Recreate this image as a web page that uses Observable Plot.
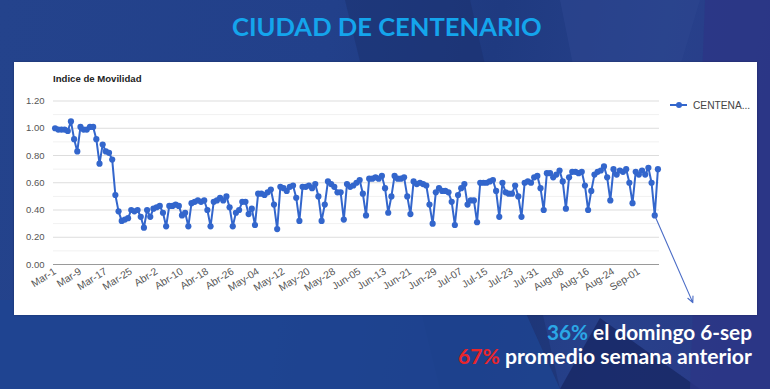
<!DOCTYPE html>
<html><head><meta charset="utf-8">
<script src="https://cdn.jsdelivr.net/npm/d3@7"></script>
<script src="https://cdn.jsdelivr.net/npm/@observablehq/plot@0.6"></script>
<style>
html,body{margin:0;padding:0;}
body{width:770px;height:389px;overflow:hidden;position:relative;background:#22408a;font-family:"Liberation Sans",Arial,sans-serif;}
.bg{position:absolute;left:0;top:0;width:770px;height:389px;}
.txt{position:absolute;white-space:nowrap;font-family:Lato,"Open Sans",sans-serif;font-weight:700;line-height:1;}
#title{color:#14a5ec;font-size:30px;}
#panel{position:absolute;left:14px;top:62px;width:743px;height:253px;background:#fff;box-shadow:0 0 2px rgba(0,0,0,0.3);}
#ctitle{position:absolute;left:39px;top:11px;font:bold 9.6px "Liberation Sans",Arial,sans-serif;color:#222;}
#legend{position:absolute;left:656px;top:37px;font:10.2px "Liberation Sans",Arial,sans-serif;color:#444;white-space:nowrap;}
#legend svg{vertical-align:middle;margin-right:6px;}
#legend span{vertical-align:middle;}
#chart{position:absolute;left:0;top:0;}
</style></head>
<body>
<div class="bg" style="background:linear-gradient(100deg,#24438c 0%,#22408a 40%,#1f3a80 60%,#27418b 80%,#2b3886 100%);"></div>
<div class="bg" style="background:#1c326f;clip-path:polygon(345px 0,470px 0,560px 389px,440px 389px);opacity:0.55;"></div>
<div class="bg" style="background:#2d4690;clip-path:polygon(560px 0,700px 0,640px 200px,600px 200px);opacity:0.6;"></div>
<div class="bg" style="background:#1e4592;clip-path:polygon(0 300px,520px 300px,560px 389px,0 389px);opacity:0.8;"></div>
<div class="bg" style="background:#1a2a68;clip-path:polygon(600px 318px,700px 389px,560px 389px);opacity:0.9;"></div>
<div class="bg" style="background:#2c3686;clip-path:polygon(705px 0,770px 0,770px 389px,690px 389px);opacity:0.8;"></div>

<div id="title" class="txt">CIUDAD DE CENTENARIO</div>

<div id="panel">
  <div id="chart"></div>
  <div id="ctitle">Indice de Movilidad</div>
  <div id="legend"><svg width="17" height="8"><line x1="0" y1="4" x2="17" y2="4" stroke="#3366cc" stroke-width="2"/><circle cx="9" cy="4" r="3" fill="#3366cc"/></svg><span>CENTENA...</span></div>
</div>

<div id="note1" class="txt"><span style="color:#2ba7e6">36%</span><span style="color:#fff"> el domingo 6-sep</span></div>
<div id="note2" class="txt"><span style="color:#e8252b">67%</span><span style="color:#fff"> promedio semana anterior</span></div>

<script>
// ---- data ----
const startDate = "2020-03-01";
const seriesName = "CENTENARIO";
const values = [
  1.00,0.99,0.99,0.99,0.98,1.05,0.92,0.83,1.01,0.99,0.99,1.01,1.01,0.92,0.74,0.88,0.83,0.82,0.77,0.51,
  0.39,0.32,0.33,0.34,0.40,0.39,0.40,0.35,0.27,0.40,
  0.35,0.41,0.42,0.43,0.38,0.28,0.43,0.43,0.44,0.43,
  0.36,0.38,0.28,0.45,0.46,0.47,0.46,0.47,0.40,0.28,
  0.46,0.47,0.49,0.47,0.50,0.42,0.28,0.38,0.40,0.46,
  0.46,0.37,0.41,0.29,0.52,0.52,0.51,0.53,0.55,0.44,
  0.26,0.57,0.56,0.54,0.57,0.58,0.49,0.32,0.57,0.57,
  0.58,0.56,0.59,0.50,0.32,0.44,0.61,0.59,0.57,0.53,
  0.53,0.33,0.59,0.57,0.58,0.60,0.62,0.52,0.36,0.63,
  0.63,0.64,0.63,0.65,0.56,0.38,0.50,0.65,0.63,0.63,
  0.64,0.50,0.37,0.61,0.59,0.60,0.59,0.58,0.44,0.30,
  0.53,0.56,0.54,0.54,0.53,0.46,0.29,0.51,0.56,0.59,
  0.44,0.47,0.47,0.31,0.60,0.60,0.60,0.61,0.62,0.54,
  0.35,0.60,0.53,0.52,0.52,0.58,0.50,0.35,0.60,0.61,
  0.60,0.64,0.65,0.56,0.40,0.67,0.67,0.64,0.66,0.69,
  0.61,0.41,0.64,0.68,0.68,0.67,0.68,0.58,0.40,0.54,
  0.66,0.68,0.69,0.72,0.64,0.47,0.70,0.66,0.69,0.68,
  0.70,0.60,0.45,0.68,0.66,0.69,0.66,0.71,0.60,0.36,0.70
];
const tickLabels = ["Mar-1","Mar-9","Mar-17","Mar-25","Abr-2","Abr-10","Abr-18","Abr-26",
  "May-04","May-12","May-20","May-28","Jun-05","Jun-13","Jun-21","Jun-29",
  "Jul-07","Jul-15","Jul-23","Jul-31","Aug-08","Aug-16","Aug-24","Sep-01"];
const tickStepDays = 8;
const yTicks = [0,0.2,0.4,0.6,0.8,1.0,1.2];
const yMinorTicks = [0.1,0.3,0.5,0.7,0.9,1.1];
// annotation arrow: from the Sunday 6-sep point, pointing down-right
const arrowFrom = {date:"2020-09-06", value:0.36};
const arrowTo = {date:"2020-09-18", value:-0.28};

// ---- build ----
const start = new Date(startDate + "T00:00:00Z");
const data = values.map((v,i)=>({date:d3.utcDay.offset(start,i), value:v, series:seriesName}));
const end = data[data.length-1].date;
const tickDates = tickLabels.map((_,i)=>d3.utcDay.offset(start,i*tickStepDays));
const labelMap = new Map(tickDates.map((d,i)=>[+d,tickLabels[i]]));
const arrows = [{x1:new Date(arrowFrom.date+"T00:00:00Z"),y1:arrowFrom.value,x2:new Date(arrowTo.date+"T00:00:00Z"),y2:arrowTo.value}];

const chart = Plot.plot({
  width:743, height:253,
  marginLeft:39, marginRight:98, marginTop:38.5, marginBottom:51,
  style:{background:"transparent", fontFamily:"'Liberation Sans',Arial,sans-serif", overflow:"visible"},
  x:{type:"utc", domain:[d3.utcHour.offset(start,-12), d3.utcHour.offset(end,12)]},
  y:{domain:[0,1.2]},
  marks:[
    Plot.ruleY(yMinorTicks,{stroke:"#f1f1f1", strokeWidth:1}),
    Plot.ruleY(yTicks.filter(d=>d>0),{stroke:"#dddddd", strokeWidth:1}),
    Plot.ruleY([0],{stroke:"#9a9a9a", strokeWidth:1}),
    Plot.axisY(yTicks,{tickFormat:d3.format(".2f"), tickSize:0, tickPadding:9, fontSize:9.5, fill:"#555"}),
    Plot.axisX(tickDates,{tickFormat:d=>labelMap.get(+d), tickSize:0, tickPadding:6, tickRotate:-32, fontSize:10.3, fill:"#555"}),
    Plot.line(data,{x:"date", y:"value", stroke:"#3366cc", strokeWidth:2}),
    Plot.dot(data,{x:"date", y:"value", r:3.1, fill:"#3366cc", stroke:"none"}),
    Plot.arrow(arrows,{x1:"x1",y1:"y1",x2:"x2",y2:"y2", stroke:"#4a6cc6", strokeWidth:1.1, headLength:9, headAngle:50})
  ]
});
document.getElementById("chart").appendChild(chart);

// ---- text fitting (size to target width, place by baseline) ----
function place(id, targetWidth, baseline, opts){
  const el = document.getElementById(id);
  const fs0 = parseFloat(getComputedStyle(el).fontSize);
  const w = el.getBoundingClientRect().width;
  const fs = fs0*targetWidth/w;
  el.style.fontSize = fs+"px";
  el.style.top = (baseline - 0.887*fs)+"px";
  if (opts.center!=null) el.style.left = (opts.center - targetWidth/2)+"px";
  if (opts.right!=null) el.style.left = (opts.right - targetWidth)+"px";
}
place("title", 310, 37, {center:387});
place("note1", 205, 340, {right:752});
place("note2", 294, 365, {right:752});
</script>
</body></html>
